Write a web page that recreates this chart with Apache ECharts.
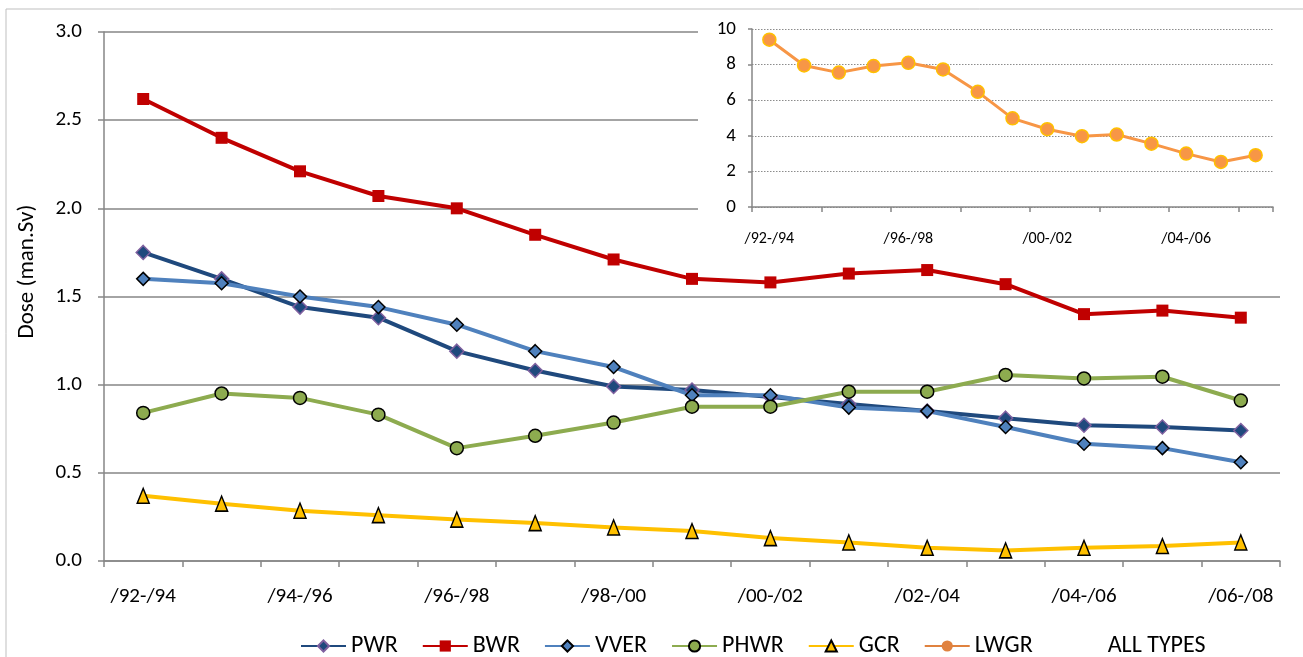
<!DOCTYPE html>
<html>
<head>
<meta charset="utf-8">
<script src="https://cdn.jsdelivr.net/npm/echarts@6/dist/echarts.min.js"></script>
<style>
html,body{margin:0;padding:0;background:#fff;}
#c{width:1303px;height:657px;}
</style>
</head>
<body>
<div id="c"></div>
<script>
var categories = ['/92-/94','/93-/95','/94-/96','/95-/97','/96-/98','/97-/99','/98-/00','/99-/01','/00-/02','/01-/03','/02-/04','/03-/05','/04-/06','/05-/07','/06-/08'];
var pwr  = [1.75, 1.60, 1.44, 1.38, 1.19, 1.08, 0.99, 0.97, 0.93, 0.89, 0.85, 0.81, 0.77, 0.76, 0.74];
var bwr  = [2.62, 2.40, 2.21, 2.07, 2.00, 1.85, 1.71, 1.60, 1.58, 1.63, 1.65, 1.57, 1.40, 1.42, 1.38];
var vver = [1.60, 1.575, 1.50, 1.44, 1.34, 1.19, 1.10, 0.94, 0.94, 0.87, 0.85, 0.76, 0.665, 0.64, 0.56];
var phwr = [0.84, 0.95, 0.925, 0.83, 0.64, 0.71, 0.785, 0.875, 0.875, 0.96, 0.96, 1.055, 1.035, 1.045, 0.91];
var gcr  = [0.37, 0.325, 0.285, 0.26, 0.235, 0.215, 0.19, 0.17, 0.13, 0.105, 0.075, 0.06, 0.075, 0.085, 0.105];
var lwgr = [];
var allTypes = [9.4, 7.95, 7.55, 7.92, 8.1, 7.73, 6.47, 4.98, 4.37, 3.98, 4.07, 3.56, 3.0, 2.53, 2.91];
var mainTicks = [0, 0.5, 1.0, 1.5, 2.0, 2.5, 3.0];
var insetTicks = [0, 2, 4, 6, 8, 10];

var FONT = 'Carlito, Calibri, Lato, sans-serif';
var axisGray = '#868686';

var chart = echarts.init(document.getElementById('c'), null, {renderer:'canvas'});

function lineSeries(name, data, color, symbol, size, markerColor, borderColor, borderWidth) {
  return {
    name: name, type: 'line', data: data,
    xAxisIndex: 0, yAxisIndex: 0,
    symbol: symbol, symbolSize: size,
    lineStyle: {color: color, width: 4},
    itemStyle: {color: markerColor, borderColor: borderColor, borderWidth: borderWidth},
    emphasis: {disabled: true},
    z: 2
  };
}

var option = {
  animation: false,
  backgroundColor: '#fff',
  textStyle: {fontFamily: FONT},
  graphic: [
    {type: 'rect', shape: {x: 6, y: 9, width: 1310, height: 660}, style: {fill: 'none', stroke: '#bfbfbf', lineWidth: 1}, z: 0, silent: true},
    {type: 'rect', shape: {x: 698, y: 11, width: 600, height: 242}, style: {fill: '#fff'}, z: 1, silent: true}
  ],
  grid: [
    {left: 104, right: 23, top: 32, bottom: 96, containLabel: false},
    {left: 752, right: 30, top: 29, bottom: 450, containLabel: false}
  ],
  legend: {
    top: 629, left: 295,
    itemWidth: 45, itemHeight: 14, itemGap: 24,
    textStyle: {fontFamily: FONT, fontSize: 24, color: '#000'},
    data: ['PWR','BWR','VVER','PHWR','GCR','LWGR',
      {name: 'ALL TYPES', itemStyle: {opacity: 0}, lineStyle: {opacity: 0}}]
  },
  xAxis: [
    {
      gridIndex: 0, type: 'category', data: categories, boundaryGap: true,
      axisLine: {lineStyle: {color: axisGray, width: 1.5}},
      axisTick: {show: true, interval: 0, length: 6, lineStyle: {color: axisGray, width: 1.5}},
      axisLabel: {interval: 1, margin: 25, fontSize: 21, color: '#000', fontFamily: FONT},
      splitLine: {show: false}
    },
    {
      gridIndex: 1, type: 'category', data: categories, boundaryGap: true, z: 3,
      axisLine: {lineStyle: {color: axisGray, width: 1.5}},
      axisTick: {show: true, interval: 1, length: 5, lineStyle: {color: axisGray, width: 1.5}},
      axisLabel: {interval: 3, margin: 24, fontSize: 16, color: '#000', fontFamily: FONT},
      splitLine: {show: false}
    }
  ],
  yAxis: [
    {
      gridIndex: 0, type: 'value', min: mainTicks[0], max: mainTicks[mainTicks.length-1], interval: 0.5,
      name: 'Dose (man.Sv)', nameLocation: 'middle', nameGap: 65,
      nameTextStyle: {fontSize: 23, color: '#000', fontFamily: FONT, padding: [0, 0, 0, 50]},
      axisLine: {show: true, lineStyle: {color: axisGray, width: 1.5}},
      axisTick: {show: true, length: 6, lineStyle: {color: axisGray, width: 1.5}},
      axisLabel: {margin: 22, fontSize: 21, color: '#000', fontFamily: FONT, formatter: function(v){return v.toFixed(1);}},
      splitLine: {show: true, lineStyle: {color: axisGray, width: 1.5}}
    },
    {
      gridIndex: 1, type: 'value', min: insetTicks[0], max: insetTicks[insetTicks.length-1], interval: 2, z: 3,
      axisLine: {show: true, lineStyle: {color: axisGray, width: 1.5}},
      axisTick: {show: true, length: 4, lineStyle: {color: axisGray, width: 1.5}},
      axisLabel: {margin: 16, fontSize: 19, color: '#000', fontFamily: FONT},
      splitLine: {show: true, lineStyle: {color: '#8c8c8c', width: 1, type: [1.5, 1.5]}}
    }
  ],
  series: [
    lineSeries('PWR', pwr, '#1F497D', 'diamond', 14, '#1F497D', '#7F609F', 1.5),
    lineSeries('BWR', bwr, '#C00000', 'rect', 12, '#C00000', '#C00000', 0),
    lineSeries('VVER', vver, '#4F81BD', 'diamond', 13, '#4F81BD', '#000', 1.5),
    lineSeries('PHWR', phwr, '#8DAB4F', 'circle', 13, '#8DAB4F', '#000', 1.5),
    lineSeries('GCR', gcr, '#FFC000', 'triangle', [12, 15], '#FFC000', '#000', 1.5),
    lineSeries('LWGR', lwgr, '#E0823F', 'circle', 13, '#E0823F', '#E0823F', 0),
    {
      name: 'ALL TYPES', type: 'line', data: allTypes,
      xAxisIndex: 1, yAxisIndex: 1, z: 4,
      symbol: 'circle', symbolSize: 13,
      lineStyle: {color: '#F79646', width: 3},
      itemStyle: {color: '#F79646', borderColor: '#FFC000', borderWidth: 1.5},
      emphasis: {disabled: true}
    }
  ]
};
chart.setOption(option);
</script>
</body>
</html>
